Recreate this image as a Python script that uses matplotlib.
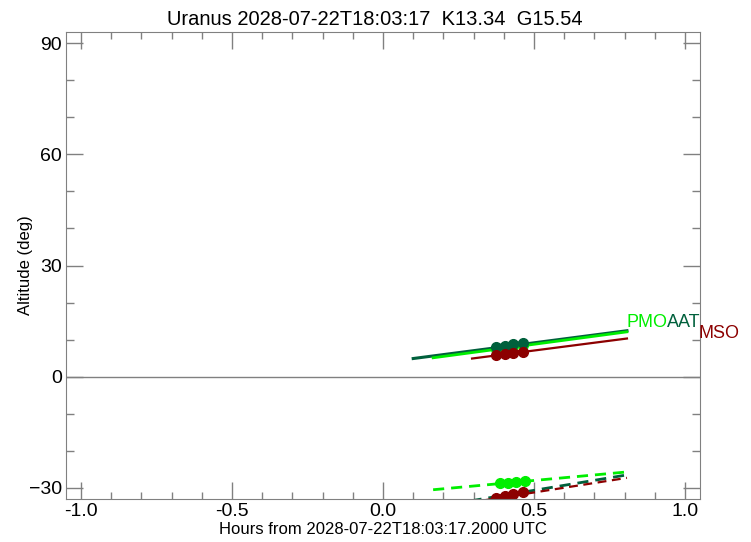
# Uranus altitude track for three observatories

import matplotlib.pyplot as plt
from matplotlib.ticker import MultipleLocator

# altitude tracks (hours from reference time, degrees)
aat_x = [0.10, 0.808]
aat_y = [4.9, 12.4]
pmo_x = [0.166, 0.808]
pmo_y = [5.1, 12.1]
mso_x = [0.295, 0.808]
mso_y = [4.9, 10.3]

# observing windows (dots)
aat_dot_x = [0.374, 0.404, 0.430, 0.464]
aat_dot_y = [8.1, 8.4, 8.7, 9.0]
pmo_dot_x = [0.374, 0.404, 0.430, 0.464]
pmo_dot_y = [7.6, 7.9, 8.2, 8.5]
mso_dot_x = [0.374, 0.404, 0.430, 0.464]
mso_dot_y = [5.9, 6.2, 6.4, 6.7]

# lower (dashed) tracks
pmo_lo_x = [0.166, 0.808]
pmo_lo_y = [-30.5, -25.7]
aat_lo_x = [0.290, 0.808]
aat_lo_y = [-33.5, -26.5]
mso_lo_x = [0.300, 0.808]
mso_lo_y = [-33.8, -27.3]
pmo_lo_dot_x = [0.387, 0.415, 0.440, 0.470]
pmo_lo_dot_y = [-28.8, -28.6, -28.4, -28.2]
mso_lo_dot_x = [0.374, 0.404, 0.430, 0.464]
mso_lo_dot_y = [-32.6, -32.1, -31.7, -31.2]

labels = ['PMO', 'AAT', 'MSO']
label_x = [0.808, 0.94, 1.045]
label_y = [14.6, 14.6, 11.6]

c_pmo = '#00ee00'
c_aat = '#00603c'
c_mso = '#8c0000'
axc = '#808080'

plt.rcParams['font.family'] = ['Liberation Sans', 'DejaVu Sans']

fig = plt.figure(figsize=(7.51, 5.42), dpi=100)
ax = fig.add_axes([66 / 751, 1 - 499 / 542, 634 / 751, 467 / 542])

ax.axhline(0, color=axc, lw=1)

ax.plot(aat_x, aat_y, color=c_aat, lw=2.2)
ax.plot(pmo_x, pmo_y, color=c_pmo, lw=2)
ax.plot(mso_x, mso_y, color=c_mso, lw=1.6)
ax.plot(pmo_dot_x, pmo_dot_y, color=c_pmo, lw=3.5, marker='o', ms=7)
ax.plot(aat_dot_x, aat_dot_y, color=c_aat, lw=3.5, marker='o', ms=7)
ax.plot(mso_dot_x, mso_dot_y, color=c_mso, lw=3.5, marker='o', ms=7)

dash = (0, (4, 2.5))
ax.plot(pmo_lo_x, pmo_lo_y, color=c_pmo, lw=2, ls=dash)
ax.plot(aat_lo_x, aat_lo_y, color=c_aat, lw=2, ls=dash)
ax.plot(mso_lo_x, mso_lo_y, color=c_mso, lw=1.6, ls=(2, (4, 2.5)))
ax.plot(pmo_lo_dot_x, pmo_lo_dot_y, color=c_pmo, lw=3.5, marker='o', ms=7)
ax.plot(mso_lo_dot_x, mso_lo_dot_y, color=c_mso, lw=3.5, marker='o', ms=7)

for lab, lx, ly, c in zip(labels, label_x, label_y, [c_pmo, c_aat, c_mso]):
    ax.text(lx, ly, lab, color=c, fontsize=13, va='center', ha='left', clip_on=False)

ax.set_xlim(-1.05, 1.05)
ax.set_ylim(-33, 93)
ax.xaxis.set_major_locator(MultipleLocator(0.5))
ax.xaxis.set_minor_locator(MultipleLocator(0.1))
ax.yaxis.set_major_locator(MultipleLocator(30))
ax.yaxis.set_minor_locator(MultipleLocator(10))
ax.tick_params(which='both', direction='in', top=True, right=True, color=axc,
               labelsize=14, pad=3)
ax.tick_params(which='major', length=12, width=1)
ax.tick_params(axis='x', which='minor', length=5, width=1)
ax.tick_params(axis='y', which='minor', length=6, width=1)
ax.set_xticklabels([f'{v:.1f}' for v in ax.get_xticks()])
for s in ax.spines.values():
    s.set_color(axc)

ax.set_xlabel('Hours from 2028-07-22T18:03:17.2000 UTC', fontsize=12, labelpad=1)
ax.set_ylabel('Altitude (deg)', fontsize=12, labelpad=-3)
ax.set_title('Uranus 2028-07-22T18:03:17  K13.34  G15.54', fontsize=14.5, pad=5, x=0.487)

fig.savefig('out.png', dpi=100)
